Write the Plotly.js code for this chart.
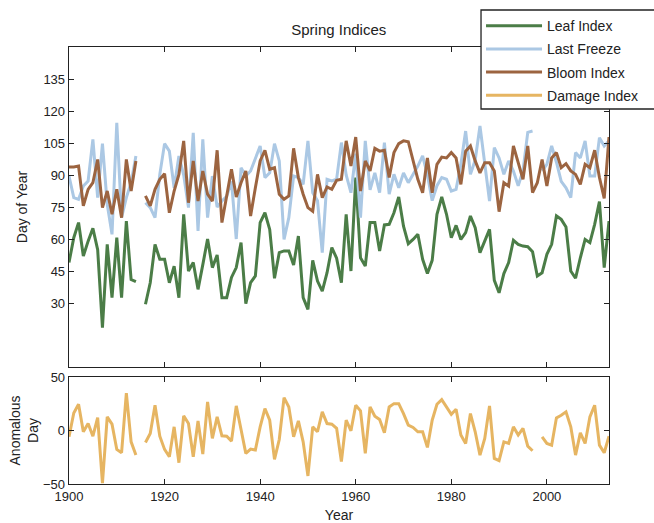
<!DOCTYPE html>
<html>
<head>
<meta charset="utf-8">
<script src="https://cdn.plot.ly/plotly-3.0.1.min.js"></script>
<style>html,body{margin:0;padding:0;background:#fff;}#chart{width:654px;height:523px;}</style>
</head>
<body>
<div id="chart"></div>
<script>
var startYear = 1900, endYear = 2013;
var years = [];
for (var y = startYear; y <= endYear; y++) years.push(y);

var leafIndex = [
49,60.6,67.7,52,59,65,55,18.4,57.5,32.5,
60.6,32.5,68.4,41,40,null,29.4,39.5,57.5,50.5,
50.5,39.5,47.3,32.5,71.6,45,49,36.4,48,60,
46.6,52.5,32.5,32.5,42,46.6,58.3,29.7,39.5,42.7,
67.7,72.3,64.5,41.6,53.6,54.4,54.4,47.8,61.4,32.5,
27,50,40.3,35.6,44.2,56,51,39.5,71.6,45,
88.8,51.2,47.3,67.7,67.7,54.4,66.6,66.9,72.3,79.7,
66,57.8,59.8,62.2,50.5,43.8,50,71.6,79.7,71.6,
60.6,66.4,59.8,63,70.8,65.3,53.6,59,64.5,40.6,
34.8,43.8,49,59.4,57.5,56.7,56.4,54,42.7,44.2,
52.8,57.5,70.8,69.2,65.6,45,41.6,51.2,59.8,58.3,
66.9,77.5,46.6,68.4];

var lastFreeze = [
89.5,79.4,78.6,84.8,87.2,106.7,79.4,104.7,76.3,62.2,
114.5,70,79.4,86.4,98.9,null,77,74.7,70,90.3,
104.7,101.2,84,98.9,90,74.7,109.8,63.8,106.7,70,
89.5,75,77.8,80,87,60,93.4,89.5,91.9,98,
103.6,88.8,91,104.7,96.6,59.8,70,89.5,88.8,85.6,
106,81.7,78,53.6,88,87.2,88,105.2,90,81.7,
100,70,106,83,91,81.7,105.2,81,90.3,84,
91,86.4,90.3,94.2,99,90,78,85,88.8,88,
82.5,83.3,95,110.6,90.3,97,113,95,77.8,102.8,
98,90.3,96.6,91.9,85,92,110,110.6,null,92,
95,103.6,96,87,84,79.4,100.5,98,106,89.5,
89.5,107.5,103.6,106];

var bloomIndex = [
93.8,93.8,94.2,75.5,83.3,86.4,97.3,74.7,82.5,71.6,
83.3,70,97.3,82.5,96.6,null,80.2,75.5,83.3,88,
90.6,72.3,82.5,90.3,106,77,96.6,77.8,91.9,81,
77.8,101.6,67.7,81,92.7,79.7,86.4,91.9,70.8,84,
96.6,101.6,92.7,93.4,81,78.6,80.2,102.5,88.8,81,
74.7,73,90.3,79.4,84.4,83.3,87.5,88,106,94.2,
107.8,82.5,96.6,91.9,102.5,101.2,101.6,88.8,100.5,104.7,
106,105.6,96.6,88,81.7,98,81.7,95,98.4,98,
100.5,98,85.6,101.2,103.6,96.6,91,95.8,95.8,91.9,
72.8,86.4,84.8,103.6,95.8,88,103.6,81.7,86.4,97.3,
84.8,98,100.5,93.4,95.3,91.9,90.3,85.6,95,93.4,
101.6,88.8,79,107.8];

var damageIndex = [
-5.9,16.4,24.5,-1.2,6.5,-5.3,12.1,-49.3,12.7,5.9,
-17.7,-20.8,35,-10.6,-23,null,-11.2,-2.8,23.6,-5.3,
-17.7,-24.5,3.4,-30.1,13.7,6.5,-24.5,9,-22,26.7,
-7.4,12.7,-5,-5.3,-9.9,23,0.9,-21.4,-17.4,-18.3,
3.4,20.5,9.6,-27,-8.4,30.7,22,-5.9,9,-10.6,
-42.5,3.4,-1.2,17.4,6.5,5.9,2,-29,9.6,-0.3,
23.6,18.3,-21.4,22,13.3,10.2,-2.2,22,25.1,25.1,
15.8,5,2.8,-1.2,-1.2,-15.8,9.6,24.5,28.9,22,
15.2,19.9,-4.3,-12.1,15.8,-1.2,-23,-7.4,23,-26.1,
-28.2,-10.6,-12.1,3.4,-4.3,1.9,-14.6,-18.9,null,-5.9,
-12.1,-13.7,11.8,14.3,17.4,3.4,-23,-2.2,-12.1,12.7,
23.6,-13.7,-20.8,-5.3];

var topTicks = [30,45,60,75,90,105,120,135];
var bottomTicks = [-50,0,50];
var xTicks = [1900,1920,1940,1960,1980,2000];

var seriesNames = ['Leaf Index','Last Freeze','Bloom Index','Damage Index'];
var colors = ['#4b7d47','#abc8e4','#9c6440','#e6b562'];

var traces = [
  {x: years, y: leafIndex, name: seriesNames[0], xaxis:'x', yaxis:'y', line:{color:colors[0], width:3}},
  {x: years, y: lastFreeze, name: seriesNames[1], xaxis:'x', yaxis:'y', line:{color:colors[1], width:3}},
  {x: years, y: bloomIndex, name: seriesNames[2], xaxis:'x', yaxis:'y', line:{color:colors[2], width:3}},
  {x: years, y: damageIndex, name: seriesNames[3], xaxis:'x2', yaxis:'y2', line:{color:colors[3], width:3}}
];
traces.forEach(function(t, i){ t.type='scatter'; t.mode='lines'; t.connectgaps=false; t.legendgroup='g'+i; });

var fontFam = 'Liberation Sans, Arial, sans-serif';
var axisCommon = {
  showgrid:false, zeroline:false, showline:true, linecolor:'#222', linewidth:1.3,
  mirror:'ticks', ticks:'inside', ticklen:5, tickwidth:1, tickcolor:'#222',
  tickfont:{family:fontFam, size:13, color:'#222'}
};
function ax(extra){ var o = {}; for (var k in axisCommon) o[k]=axisCommon[k]; for (var k2 in extra) o[k2]=extra[k2]; return o; }

var layout = {
  width:654, height:523,
  paper_bgcolor:'#fff', plot_bgcolor:'#fff',
  margin:{l:69, r:45, t:47, b:39, autoexpand:false},
  font:{family:fontFam, size:13, color:'#222'},
  title:{text:'Spring Indices', font:{family:fontFam, size:15, color:'#222'}, x:0.518, xanchor:'center', y:0.943, yanchor:'middle', yref:'container'},
  showlegend:true,
  legend:{x:0.763, y:1.0844, xanchor:'left', yanchor:'top', bgcolor:'rgba(0,0,0,0)', borderwidth:0,
          font:{family:fontFam, size:14, color:'#222'}, tracegroupgap:2, itemwidth:56},
  shapes:[{type:'rect', xref:'paper', yref:'paper', x0:0.763, x1:1.2, y0:0.8581, y1:1.0847,
           fillcolor:'#fff', line:{color:'#222', width:1.3}, layer:'above'}],
  xaxis: ax({domain:[0,1], range:[startYear,endYear], anchor:'y', tickvals:xTicks, showticklabels:false}),
  yaxis: ax({domain:[0.2677,1], range:[0,150], anchor:'x', tickvals:topTicks,
             title:{text:'Day of Year', font:{family:fontFam, size:14, color:'#222'}, standoff:12}}),
  xaxis2: ax({domain:[0,1], range:[startYear,endYear], anchor:'y2', tickvals:xTicks,
             title:{text:'Year', font:{family:fontFam, size:14, color:'#222'}, standoff:7}}),
  yaxis2: ax({domain:[0,0.2449], range:[-50,50], anchor:'x2', tickvals:bottomTicks,
             title:{text:'Anomalous<br>Day', font:{family:fontFam, size:14, color:'#222'}, standoff:1}})
};

Plotly.newPlot('chart', traces, layout, {displayModeBar:false, staticPlot:true});
</script>
</body>
</html>
